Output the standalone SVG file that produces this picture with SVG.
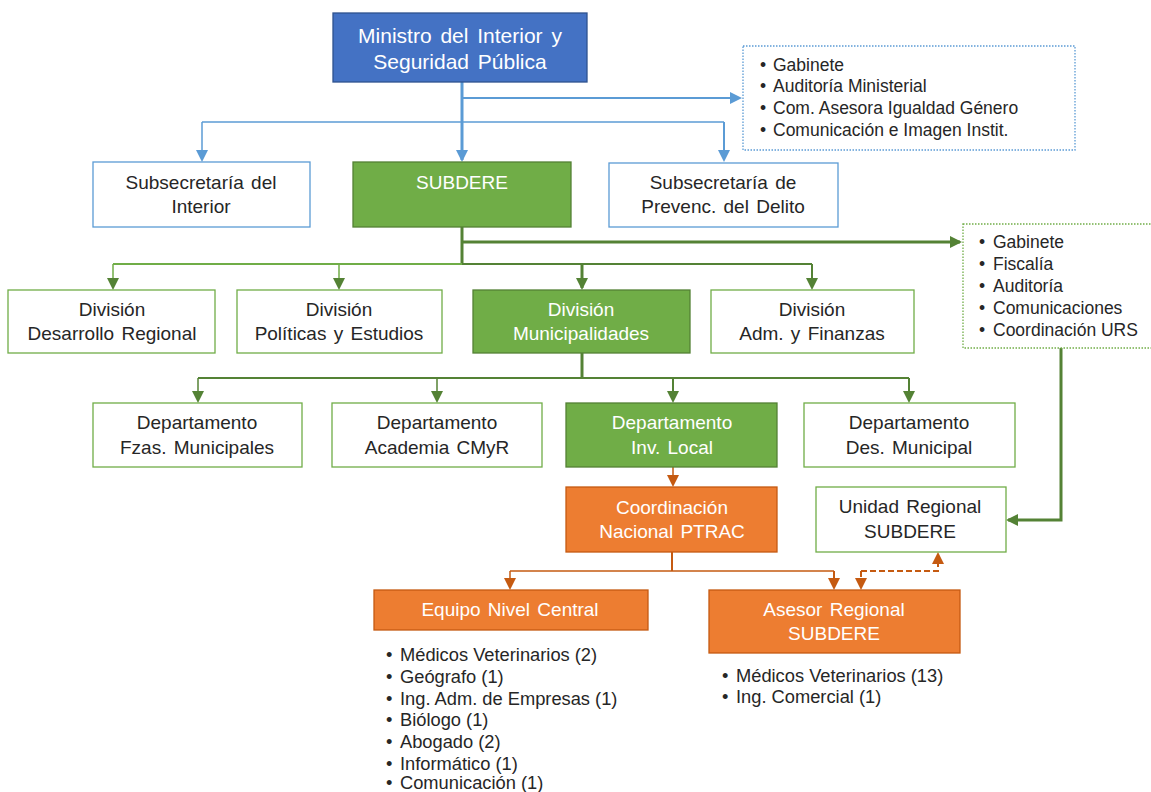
<svg xmlns="http://www.w3.org/2000/svg" width="1151" height="792" viewBox="0 0 1151 792">
<defs>
<marker id="ab" markerUnits="userSpaceOnUse" markerWidth="12" markerHeight="12" refX="10" refY="6" orient="auto"><path d="M0,0 L12,6 L0,12 z" fill="#5B9BD5"/></marker>
<marker id="ag" markerUnits="userSpaceOnUse" markerWidth="12" markerHeight="12" refX="10" refY="6" orient="auto"><path d="M0,0 L12,6 L0,12 z" fill="#548235"/></marker>
<marker id="ao" markerUnits="userSpaceOnUse" markerWidth="12" markerHeight="12" refX="10" refY="6" orient="auto"><path d="M0,0 L12,6 L0,12 z" fill="#C55A11"/></marker>
</defs>
<style>
text{font-family:"Liberation Sans",Arial,sans-serif;font-size:19px;fill:#262626;text-anchor:middle;word-spacing:2px}
.w{fill:#ffffff}
.big{font-size:21px;word-spacing:3px}
.l{text-anchor:start;font-size:17.5px;word-spacing:0}
.l2{text-anchor:start;font-size:18.3px;word-spacing:0}
.bb{fill:#ffffff;stroke:#5B9BD5;stroke-width:1.3}
.gb{fill:#ffffff;stroke:#70AD47;stroke-width:1.3}
.gf{fill:#70AD47;stroke:#538135;stroke-width:1.3}
.of{fill:#ED7D31;stroke:#C55A11;stroke-width:1.3}
.c{fill:none}
.cb{stroke:#5B9BD5}
.cg{stroke:#548235}
.cgl{stroke:#70AD47}
.co{stroke:#C55A11}
</style>
<g id="connectors" fill="none">
<path class="c cb" d="M462,82 V160" stroke-width="3" marker-end="url(#ab)"/>
<path class="c cb" d="M462,98 H740" stroke-width="2" marker-end="url(#ab)"/>
<path class="c cb" d="M202,122 H724" stroke-width="1.5"/>
<path class="c cb" d="M202,122 V160" stroke-width="1.5" marker-end="url(#ab)"/>
<path class="c cb" d="M724,122 V160" stroke-width="2" marker-end="url(#ab)"/>
<path class="c cg" d="M462,227 V264" stroke-width="3"/>
<path class="c cg" d="M462,242 H960" stroke-width="3" marker-end="url(#ag)"/>
<path class="c cgl" d="M113,264 H462" stroke-width="2"/>
<path class="c cg" d="M462,264 H812" stroke-width="2"/>
<path class="c cgl" d="M113,264 V288" stroke-width="1.5" marker-end="url(#ag)"/>
<path class="c cgl" d="M339,264 V288" stroke-width="1.5" marker-end="url(#ag)"/>
<path class="c cg" d="M582,264 V288" stroke-width="3" marker-end="url(#ag)"/>
<path class="c cg" d="M812,264 V288" stroke-width="2" marker-end="url(#ag)"/>
<path class="c cg" d="M582,353 V378" stroke-width="3"/>
<path class="c cg" d="M198,378 H909" stroke-width="2"/>
<path class="c cg" d="M198,378 V401" stroke-width="1.5" marker-end="url(#ag)"/>
<path class="c cg" d="M437,378 V401" stroke-width="1.5" marker-end="url(#ag)"/>
<path class="c cg" d="M673,378 V401" stroke-width="2" marker-end="url(#ag)"/>
<path class="c cg" d="M909,378 V401" stroke-width="2" marker-end="url(#ag)"/>
<path class="c cg" d="M1061,348 V520 H1008" stroke-width="3" marker-end="url(#ag)"/>
<path class="c co" d="M673,467 V485" stroke-width="1.5" marker-end="url(#ao)"/>
<path class="c co" d="M672,552 V571" stroke-width="2"/>
<path class="c co" d="M510,571 H834" stroke-width="1.5"/>
<path class="c co" d="M510,571 V588" stroke-width="1.5" marker-end="url(#ao)"/>
<path class="c co" d="M834,571 V588" stroke-width="2" marker-end="url(#ao)"/>
<path class="c co" d="M861,571 V588" stroke-width="2" stroke-dasharray="6,3" marker-end="url(#ao)"/>
<path class="c co" d="M861,571 H938 V554" stroke-width="2" stroke-dasharray="6,3" marker-end="url(#ao)"/>
</g>
<g id="n-ministro"><rect x="333" y="13" width="254" height="69" fill="#4472C4" stroke="#2F528F" stroke-width="1.3"/><text class="w big" x="460" y="43">Ministro del Interior y</text><text class="w big" x="460" y="69">Seguridad Pública</text></g>
<g id="n-gabinete-min"><rect x="743" y="46" width="332" height="104" fill="#ffffff" stroke="#5B9BD5" stroke-width="1.3" stroke-dasharray="1.5,1.5"/>
<text class="l" x="760" y="71">•<tspan x="773">Gabinete</tspan></text><text class="l" x="760" y="92">•<tspan x="773">Auditoría Ministerial</tspan></text><text class="l" x="760" y="114">•<tspan x="773">Com. Asesora Igualdad  Género</tspan></text><text class="l" x="760" y="136">•<tspan x="773">Comunicación e Imagen Instit.</tspan></text></g>
<g id="n-subinterior"><rect class="bb" x="93" y="162" width="217" height="65"/><text x="201" y="189">Subsecretaría del</text><text x="201" y="213">Interior</text></g>
<g id="n-subdere"><rect class="gf" x="353" y="162" width="218" height="65"/><text class="w" x="462" y="189">SUBDERE</text></g>
<g id="n-subprev"><rect class="bb" x="609" y="163" width="229" height="64"/><text x="723" y="189">Subsecretaría de</text><text x="723" y="213">Prevenc. del Delito</text></g>
<g id="n-gabinete-sub"><rect x="963" y="224" width="190" height="124" fill="#ffffff" stroke="#70AD47" stroke-width="1.3" stroke-dasharray="1.5,1.5"/>
<text class="l" x="979" y="248">•<tspan x="993">Gabinete</tspan></text><text class="l" x="979" y="270">•<tspan x="993">Fiscalía</tspan></text><text class="l" x="979" y="292">•<tspan x="993">Auditoría</tspan></text><text class="l" x="979" y="314">•<tspan x="993">Comunicaciones</tspan></text><text class="l" x="979" y="336">•<tspan x="993">Coordinación URS</tspan></text></g>
<g id="n-div-dr"><rect class="gb" x="8" y="290" width="207" height="63"/><text x="112" y="316">División</text><text x="112" y="340">Desarrollo Regional</text></g>
<g id="n-div-pe"><rect class="gb" x="237" y="290" width="205" height="63"/><text x="339" y="316">División</text><text x="339" y="340">Políticas y Estudios</text></g>
<g id="n-div-mun"><rect class="gf" x="473" y="290" width="217" height="63"/><text class="w" x="581" y="316">División</text><text class="w" x="581" y="340">Municipalidades</text></g>
<g id="n-div-af"><rect class="gb" x="711" y="290" width="203" height="63"/><text x="812" y="316">División</text><text x="812" y="340">Adm. y Finanzas</text></g>
<g id="n-dep-fz"><rect class="gb" x="93" y="403" width="209" height="64"/><text x="197" y="429">Departamento</text><text x="197" y="454">Fzas. Municipales</text></g>
<g id="n-dep-ac"><rect class="gb" x="332" y="403" width="210" height="64"/><text x="437" y="429">Departamento</text><text x="437" y="454">Academia CMyR</text></g>
<g id="n-dep-il"><rect class="gf" x="566" y="403" width="211" height="64"/><text class="w" x="672" y="429">Departamento</text><text class="w" x="672" y="454">Inv. Local</text></g>
<g id="n-dep-dm"><rect class="gb" x="804" y="403" width="211" height="64"/><text x="909" y="429">Departamento</text><text x="909" y="454">Des. Municipal</text></g>
<g id="n-coord"><rect class="of" x="566" y="487" width="211" height="65"/><text class="w" x="672" y="514">Coordinación</text><text class="w" x="672" y="538">Nacional PTRAC</text></g>
<g id="n-unidad"><rect class="gb" x="816" y="487" width="190" height="65"/><text x="910" y="513">Unidad Regional</text><text x="910" y="538">SUBDERE</text></g>
<g id="n-equipo"><rect class="of" x="374" y="590" width="274" height="40"/><text class="w" x="510" y="616">Equipo Nivel Central</text>
<text class="l2" x="386" y="661">•<tspan x="400">Médicos Veterinarios (2)</tspan></text><text class="l2" x="386" y="683">•<tspan x="400">Geógrafo (1)</tspan></text><text class="l2" x="386" y="705">•<tspan x="400">Ing. Adm. de Empresas (1)</tspan></text><text class="l2" x="386" y="726">•<tspan x="400">Biólogo (1)</tspan></text><text class="l2" x="386" y="748">•<tspan x="400">Abogado (2)</tspan></text><text class="l2" x="386" y="770">•<tspan x="400">Informático (1)</tspan></text><text class="l2" x="386" y="789">•<tspan x="400">Comunicación (1)</tspan></text></g>
<g id="n-asesor"><rect class="of" x="709" y="590" width="251" height="63"/><text class="w" x="834" y="616">Asesor Regional</text><text class="w" x="834" y="640">SUBDERE</text>
<text class="l2" x="722" y="682">•<tspan x="736">Médicos Veterinarios (13)</tspan></text><text class="l2" x="722" y="703">•<tspan x="736">Ing. Comercial (1)</tspan></text></g>
</svg>
